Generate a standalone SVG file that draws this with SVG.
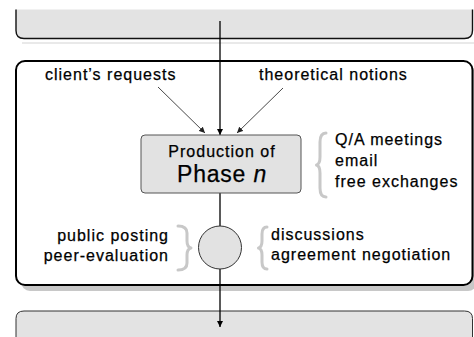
<svg xmlns="http://www.w3.org/2000/svg" width="474" height="337" viewBox="0 0 474 337">
<defs>
<marker id="ah" viewBox="0 0 10 10" refX="10" refY="5" markerWidth="6" markerHeight="6" markerUnits="userSpaceOnUse" orient="auto"><path d="M0,0 L10,5 L0,10 z" fill="#000"/></marker>
<marker id="ahs" viewBox="0 0 10 10" refX="10" refY="5" markerWidth="6" markerHeight="6" markerUnits="userSpaceOnUse" orient="auto"><path d="M0,0 L10,5 L0,10 z" fill="#222"/></marker>
</defs>
<style>
text{font-family:"Liberation Sans",Arial,sans-serif;font-size:16px;letter-spacing:1px;fill:#000;stroke:#000;stroke-width:0.25px}
.brace{fill:none;stroke:#c8c8c8;stroke-width:3;stroke-linecap:round;stroke-linejoin:round}
.conn{fill:none;stroke:#000;stroke-width:1.3}
.thin{fill:none;stroke:#333;stroke-width:0.9}
</style>
<g id="top-box">
<line x1="22" y1="43" x2="474" y2="43" stroke="#d4d4d4" stroke-width="1.2"/>
<path d="M16,9.5 V30.5 Q16,38.5 24,38.5 H464.5 Q472.5,38.5 472.5,30.5 V9.5 Z" fill="#e3e3e3" stroke="none"/>
<path d="M16,9.5 V30.5 Q16,38.5 24,38.5 H464.5 Q472.5,38.5 472.5,30.5 V9.5" fill="none" stroke="#111" stroke-width="1.4"/>
</g>
<g id="phase-box">
<rect x="21" y="66" width="456" height="225" rx="9" fill="#c8c8c8"/>
<rect x="16" y="61" width="456.5" height="224" rx="9" fill="#fff" stroke="#000" stroke-width="2"/>
</g>
<g id="bottom-box">
<path d="M16,337 V318.5 Q16,311 24,311 H464.5 Q472.5,311 472.5,318.5 V337 Z" fill="#e3e3e3" stroke="none"/>
<path d="M16,337 V318.5 Q16,311 24,311 H464.5 Q472.5,311 472.5,318.5 V337" fill="none" stroke="#333" stroke-width="1"/>
</g>
<g id="connectors">
<line class="conn" x1="220" y1="21" x2="220" y2="135" marker-end="url(#ah)"/>
<line class="conn" x1="220" y1="193" x2="220" y2="226"/>
<line class="conn" x1="220" y1="269" x2="220" y2="327" marker-end="url(#ah)"/>
<line class="thin" x1="158" y1="87" x2="205" y2="133" marker-end="url(#ahs)"/>
<line class="thin" x1="283" y1="88" x2="237" y2="133" marker-end="url(#ahs)"/>
</g>
<g id="production">
<rect x="141" y="135" width="160" height="58" rx="4" fill="#e2e2e2" stroke="#555" stroke-width="1"/>
<text x="222" y="157" text-anchor="middle">Production of</text>
<text x="222" y="182" text-anchor="middle" style="font-size:23px;letter-spacing:0.8px">Phase <tspan font-style="italic">n</tspan></text>
</g>
<g id="merge">
<circle cx="220" cy="247.5" r="21.5" fill="#e2e2e2" stroke="#333" stroke-width="1"/>
</g>
<g id="inputs">
<text x="45" y="80">client’s requests</text>
<text x="259" y="80">theoretical notions</text>
</g>
<g id="channels">
<path class="brace" d="M326,133 Q320,133 320,142 V157 Q320,164 316.5,165 Q320,166 320,173 V188 Q320,197 326,197"/>
<text x="335" y="145">Q/A meetings</text>
<text x="335" y="166">email</text>
<text x="335" y="187">free exchanges</text>
</g>
<g id="evaluation">
<path class="brace" d="M178,226 Q187,226 187,233 V241 Q187,247 191,248 Q187,249 187,255 V263 Q187,270 178,270"/>
<text x="169" y="241" text-anchor="end">public posting</text>
<text x="169" y="261" text-anchor="end">peer-evaluation</text>
</g>
<g id="negotiation">
<path class="brace" d="M267,227 Q262,227 262,234 V241 Q262,247 258.5,248 Q262,249 262,255 V262 Q262,269 267,269"/>
<text x="271" y="240">discussions</text>
<text x="271" y="260">agreement negotiation</text>
</g>
</svg>
